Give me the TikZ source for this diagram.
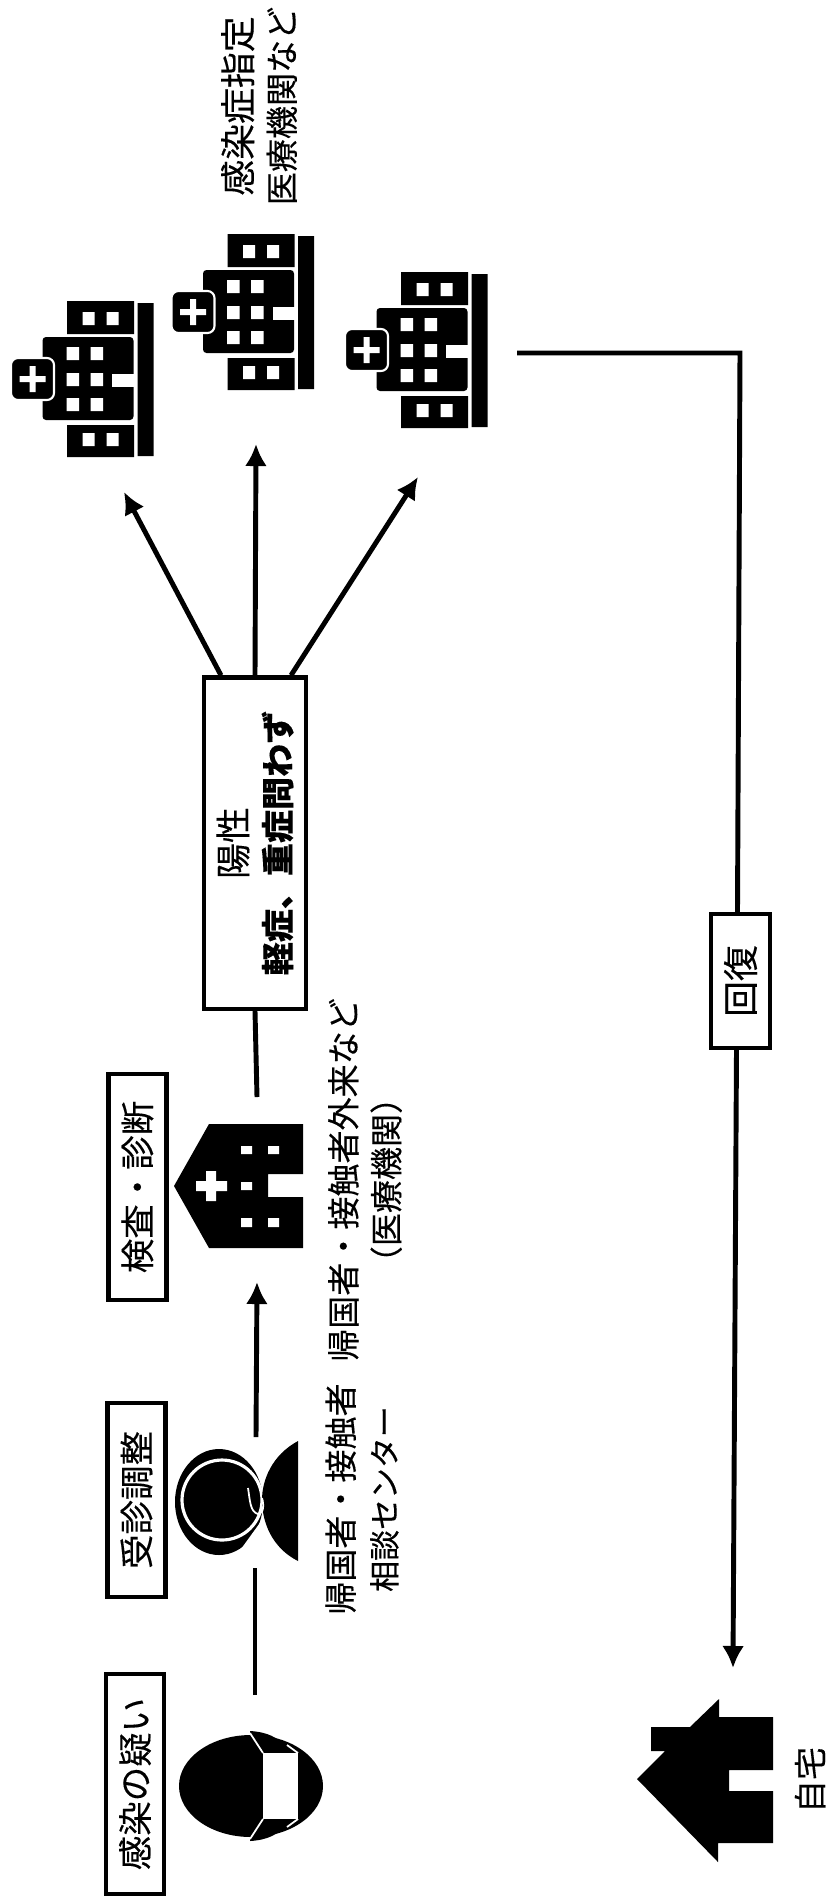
\documentclass[tikz,border=0pt]{standalone}
\usepackage{fontspec}
\setmainfont{Noto Sans CJK JP}[FakeBold=0.25]
\usepackage{tikz}
\usetikzlibrary{arrows.meta}

\newcommand{\bigger}{\fontsize{10.2}{12.2}\selectfont}
\newcommand{\smaller}{\fontsize{8.8}{12.2}\selectfont}

\begin{document}
\begin{tikzpicture}[
  x=0.01cm, y=-0.01cm,
  >={Latex[length=2.2mm,width=2.2mm]},
  every node/.style={font=\fontsize{9.4}{12.2}\selectfont},
  lab/.style   ={rotate=90, align=center},
  stage/.style ={rotate=90, draw=black, fill=white, align=center, line width=1.2pt,
                 minimum width=2.2cm, minimum height=0.58cm, inner sep=0pt,
                 font=\fontsize{9.8}{12.4}\selectfont},
  flow/.style  ={->, line width=1.4pt, draw=black},
  link/.style  ={line width=1.4pt, draw=black},
  hole/.style  ={fill=white},
  hospital/.pic={
    % wings, main block, ground bar, cross plate
    \fill[black] (55,-78) rectangle (122,-45) (55,46) rectangle (122,78)
                 (125.5,-76) rectangle (141.5,77);
    \fill[black, rounded corners=1pt] (30.5,-42) rectangle (121.5,41);
    \fill[hole] (100,-5) rectangle (122,8);
    \fill[black, draw=white, line width=0.6pt, rounded corners=2pt] (-1,-21) rectangle (42,21);
    \fill[hole] (70.5,-67) rectangle (82.5,-54) (94.5,-67) rectangle (106.5,-54)
                (70.5,54) rectangle (82.5,67) (94.5,54) rectangle (106.5,67)
                (54.5,-32) rectangle (67,-19) (78.5,-32) rectangle (91,-19)
                (54.5,-6) rectangle (67,7) (78.5,-6) rectangle (91,7)
                (54.5,19) rectangle (67,32) (78.5,19) rectangle (91,32);
    \fill[hole] (7.5,-3) rectangle (33.5,3) (17.5,-13) rectangle (23.5,13);
  },
]
\useasboundingbox (0,0) rectangle (827,1899);

% Stage labels along the left edge
\node[stage, minimum width=2.2cm]  (doubt)  at (135,1784) {感染の疑い};
\node[stage, minimum width=1.94cm] (triage) at (136.5,1500) {受診調整};
\node[stage, minimum width=2.26cm] (exam)   at (137.5,1187) {検査・診断};
\node[stage, minimum width=3.31cm, minimum height=1.02cm] (positive) at (255,843)
  {{\bigger 陽性}\\\fontsize{9.4}{12.2}\selectfont\bfseries 軽症、重症問わず};
\node[stage, minimum width=1.34cm, minimum height=0.59cm] (recover) at (740.5,981) {\bigger 回復};

% Captions
\node[lab] (callcap)   at (362,1499) {帰国者・接触者\\{\smaller 相談センター}};
\node[lab] (clinicap)  at (365,1180) {帰国者・接触者外来など\\（医療機関）};
\node[lab] (hospcap)   at (259,106)  {{\bigger 感染症指定}\\医療機関など};
\node[lab] (homecap)   at (810,1780) {自宅};

% Masked person
\fill[black] (251,1786) ellipse [x radius=72, y radius=51];
\fill[black] (250,1731) .. controls (268,1732) and (278,1738) .. (285,1746) -- (285,1760) -- (250,1760) -- cycle;
\fill[black] (250,1841) .. controls (268,1840) and (278,1834) .. (285,1826) -- (285,1812) -- (250,1812) -- cycle;
\draw[white, line width=0.5pt] (263,1753) -- (250,1733) (298,1753) -- (287,1745)
                               (263,1819) -- (250,1839) (298,1819) -- (287,1827);
\fill[white] (263,1753) rectangle (298,1819);

% Operator with headset
\fill[black] (219,1502) ellipse [x radius=44, y radius=53];
\fill[white] (241,1549) -- (275,1565) -- (275,1522) -- (262,1520) -- cycle;
\fill[black] (222,1500) ellipse [x radius=38, y radius=38];
\draw[white, line width=0.9pt] (222,1500) ellipse [x radius=40, y radius=40];
\fill[black] (298,1441) .. controls (272,1455) and (262,1480) .. (262,1500)
             .. controls (262,1522) and (272,1548) .. (298,1561) -- cycle;
\draw[white, line width=0.5pt] (248,1488) .. controls (250,1500) and (250,1512) .. (258,1514)
                               .. controls (264,1514) and (264,1504) .. (262,1498);

% Clinic
\fill[black] (174,1186) -- (209,1124) -- (303,1124) -- (303,1174) -- (268,1174)
             -- (268,1197) -- (303,1197) -- (303,1248) -- (209,1248) -- cycle;
\fill[hole] (241,1146) rectangle (252,1154) (268,1146) rectangle (279,1154)
            (241,1182) rectangle (252,1190)
            (241,1218) rectangle (252,1227) (268,1218) rectangle (279,1227);
\fill[hole] (196,1181) rectangle (227,1191) (206,1171) rectangle (216,1201);

% Hospitals
\pic (hospA) at (12,379)    {hospital};
\pic (hospB) at (172.5,312) {hospital};
\pic (hospC) at (346,350)   {hospital};

% Home
\fill[black] (637,1779) -- (665,1751) -- (651,1751) -- (651,1727) -- (690,1727)
             -- (719,1699) -- (719,1717) -- (773,1717) -- (773,1770) -- (729,1770)
             -- (729,1791) -- (773,1791) -- (773,1843) -- (718,1843) -- (718,1862) -- cycle;

% Free ends of the connectors
\coordinate (doubtend)  at (255,1695);
\coordinate (triagein)  at (255,1568);
\coordinate (triageout) at (256,1437);
\coordinate (clinicin)  at (257,1282);
\coordinate (clinicout) at (257,1097);
\coordinate (tipA)      at (124,492);
\coordinate (tipB)      at (256,444);
\coordinate (tipC)      at (418,477);
\coordinate (leave)     at (517,353);
\coordinate (corner)    at (740,353);
\coordinate (hometip)   at (733,1668);

% Main path
\draw[link] (doubtend) -- (triagein);
\draw[flow] (triageout) -- (clinicin);
\draw[link] (clinicout) -- (positive.west);
\draw[flow] ([xshift=-0.34cm]positive.east) -- (tipA);
\draw[flow] (positive.east) -- (tipB);
\draw[flow] ([xshift=0.36cm]positive.east) -- (tipC);

% Way back home
\draw[link] (leave) -- (corner) -- ([xshift=-0.03cm]recover.east);
\draw[flow] ([xshift=-0.04cm]recover.west) -- (hometip);
\end{tikzpicture}
\end{document}
